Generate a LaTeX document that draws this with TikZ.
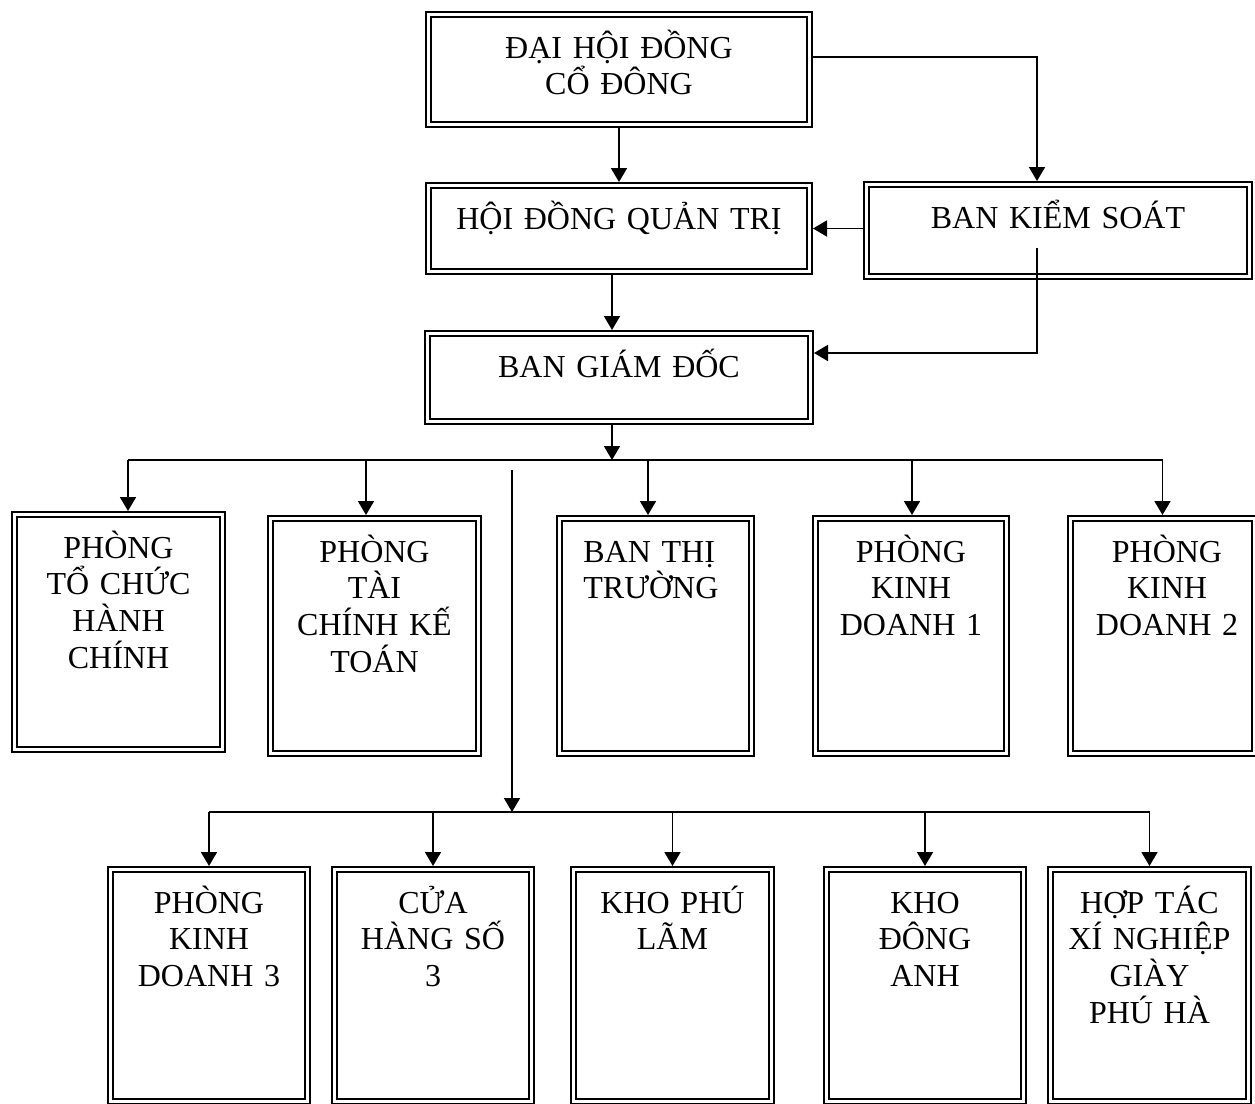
\documentclass[tikz,border=0pt]{standalone}
\usepackage{fontspec}
\setmainfont{Liberation Serif}
\usetikzlibrary{arrows.meta}

\begin{document}
\begin{tikzpicture}[x=0.5pt, y=-0.5pt,
    orgbox/.style={draw, double, line width=1.2pt, double distance=1.1pt,
      inner sep=0pt, outer sep=1.75pt},
    boxtext/.style={anchor=base, align=center, text width=180pt, inner sep=0pt,
      font=\fontsize{16}{18.4}\selectfont},
    conn/.style={line width=0.9pt, -{Triangle[length=7pt, width=8pt]}},
    busline/.style={line width=0.9pt}]
  % \draw[help lines] (0,0) grid[step=100] (1255,1104);
  \useasboundingbox (0,0) rectangle (1255,1104);
  \clip (0,0) rectangle (1255,1104);

  % upper part
  \node[orgbox, minimum width=190.5pt, minimum height=55pt] (dhdcd) at (619, 69.5) {};
  \node[orgbox, minimum width=190.5pt, minimum height=43pt] (hdqt) at (619, 228.5) {};
  \node[orgbox, minimum width=191.5pt, minimum height=46pt] (bks) at (1058, 230.5) {};
  \node[orgbox, minimum width=191.5pt, minimum height=44pt] (bgd) at (619, 377.5) {};

  \node[boxtext] (tdhdcd) at ([yshift=-23.5pt]dhdcd.north) {ĐẠI HỘI ĐỒNG\\CỔ ĐÔNG};
  \node[boxtext] (thdqt) at ([yshift=-23.5pt]hdqt.north) {HỘI ĐỒNG QUẢN TRỊ};
  \node[boxtext] (tbks) at ([yshift=-23.5pt]bks.north) {BAN KIỂM SOÁT};
  \node[boxtext] (tbgd) at ([yshift=-23.5pt]bgd.north) {BAN GIÁM ĐỐC};

  % first row of departments
  \node[orgbox, minimum width=104pt, minimum height=117.5pt] (tchc) at (118.5, 632) {};
  \node[orgbox, minimum width=104pt, minimum height=117.5pt] (tckt) at (374.5, 636) {};
  \node[orgbox, minimum width=96pt, minimum height=117.5pt] (btt) at (655.5, 636) {};
  \node[orgbox, minimum width=95.5pt, minimum height=117.5pt] (kd1) at (911, 636) {};
  \node[orgbox, minimum width=92pt, minimum height=117.5pt] (kd2) at (1162.5, 636) {};

  \node[boxtext] (ttchc) at ([yshift=-23.5pt]tchc.north) {PHÒNG\\TỔ CHỨC\\HÀNH\\CHÍNH};
  \node[boxtext] (ttckt) at ([yshift=-23.5pt]tckt.north) {PHÒNG\\TÀI\\CHÍNH KẾ\\TOÁN};
  \node[boxtext, align=left, anchor=base west] (tbtt) at ([xshift=-36.25pt, yshift=-23.5pt]btt.north) {BAN THỊ\\TRƯỜNG};
  \node[boxtext] (tkd1) at ([yshift=-23.5pt]kd1.north) {PHÒNG\\KINH\\DOANH 1};
  \node[boxtext] (tkd2) at ([xshift=2.25pt, yshift=-23.5pt]kd2.north) {PHÒNG\\KINH\\DOANH 2};

  % second row, cut by the page bottom
  \node[orgbox, minimum width=98.5pt, minimum height=116pt] (kd3) at (209, 985.5) {};
  \node[orgbox, minimum width=98.5pt, minimum height=116pt] (chs) at (433, 985.5) {};
  \node[orgbox, minimum width=99pt, minimum height=116pt] (kpl) at (672.5, 985.5) {};
  \node[orgbox, minimum width=98.5pt, minimum height=116pt] (kda) at (925, 985.5) {};
  \node[orgbox, minimum width=99pt, minimum height=116pt] (htxn) at (1149.5, 985.5) {};

  \node[boxtext] (tkd3) at ([yshift=-23.5pt]kd3.north) {PHÒNG\\KINH\\DOANH 3};
  \node[boxtext] (tchs) at ([yshift=-23.5pt]chs.north) {CỬA\\HÀNG SỐ\\3};
  \node[boxtext] (tkpl) at ([yshift=-23.5pt]kpl.north) {KHO PHÚ\\LÃM};
  \node[boxtext] (tkda) at ([yshift=-23.5pt]kda.north) {KHO\\ĐÔNG\\ANH};
  \node[boxtext] (thtxn) at ([yshift=-23.5pt]htxn.north) {HỢP TÁC\\XÍ NGHIỆP\\GIÀY\\PHÚ HÀ};

  % connectors, top
  \draw[conn] (dhdcd.south) -- (hdqt.north);
  \draw[conn] ([yshift=6.25pt]dhdcd.east) -| ([xshift=-10.5pt]bks.north);
  \draw[conn] (bks.west |- hdqt.east) -- (hdqt.east);
  \draw[conn] ([xshift=-10.5pt, yshift=-8.75pt]bks.center) |- ([yshift=12.25pt]bgd.east);
  \draw[conn] ([xshift=-3.5pt]hdqt.south) -- ([xshift=-3.5pt]bgd.north);

  % bus lines
  \coordinate (bus1) at (0, 460);
  \coordinate (bus2) at (0, 812);
  \coordinate (gd) at ([xshift=-3.5pt]bgd.south);
  \draw[conn] (gd) -- (gd |- bus1);

  \coordinate (a1) at ([xshift=4.75pt]tchc.north);
  \coordinate (a2) at ([xshift=-4.25pt]tckt.north);
  \coordinate (a3) at ([xshift=-3.75pt]btt.north);
  \coordinate (a4) at ([xshift=0.5pt]kd1.north);
  \coordinate (a5) at (kd2.north);
  \draw[busline] (a1 |- bus1) -- (a5 |- bus1);
  \draw[conn] (a1 |- bus1) -- (a1);
  \draw[conn] (a2 |- bus1) -- (a2);
  \draw[conn] (a3 |- bus1) -- (a3);
  \draw[conn] (a4 |- bus1) -- (a4);
  \draw[conn] (a5 |- bus1) -- (a5);

  \coordinate (vtop) at (512, 470); % long drop, free upper end
  \draw[conn] (vtop) -- (vtop |- bus2);
  \draw[busline] (kd3.north |- bus2) -- (htxn.north |- bus2);
  \draw[conn] (kd3.north |- bus2) -- (kd3.north);
  \draw[conn] (chs.north |- bus2) -- (chs.north);
  \draw[conn] (kpl.north |- bus2) -- (kpl.north);
  \draw[conn] (kda.north |- bus2) -- (kda.north);
  \draw[conn] (htxn.north |- bus2) -- (htxn.north);
\end{tikzpicture}
\end{document}
